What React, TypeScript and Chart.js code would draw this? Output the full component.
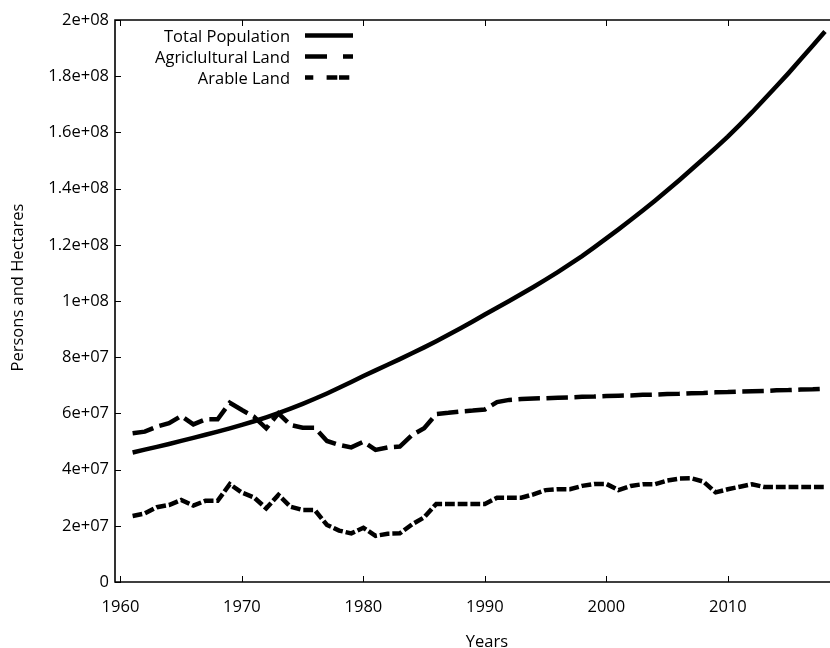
import { useEffect, useRef } from "react";
import { Chart, registerables } from "chart.js";

Chart.register(...registerables);

// ---------- data ----------
const YEARS = [
  1961, 1962, 1963, 1964, 1965, 1966, 1967, 1968, 1969, 1970,
  1971, 1972, 1973, 1974, 1975, 1976, 1977, 1978, 1979, 1980,
  1981, 1982, 1983, 1984, 1985, 1986, 1987, 1988, 1989, 1990,
  1991, 1992, 1993, 1994, 1995, 1996, 1997, 1998, 1999, 2000,
  2001, 2002, 2003, 2004, 2005, 2006, 2007, 2008, 2009, 2010,
  2011, 2012, 2013, 2014, 2015, 2016, 2017, 2018,
];

// millions of persons
const TOTAL_POPULATION_M = [
  46.1, 47.1, 48.1, 49.1, 50.2, 51.3, 52.4, 53.5, 54.7, 55.9,
  57.2, 58.6, 60.1, 61.7, 63.4, 65.2, 67.1, 69.1, 71.2, 73.3,
  75.3, 77.3, 79.3, 81.4, 83.5, 85.7, 88.0, 90.3, 92.7, 95.2,
  97.6, 100.0, 102.5, 105.0, 107.6, 110.3, 113.1, 116.0, 119.1, 122.3,
  125.5, 128.8, 132.2, 135.7, 139.3, 143.0, 146.8, 150.6, 154.5, 158.5,
  162.8, 167.2, 171.8, 176.4, 181.1, 186.0, 190.9, 195.9,
];

// millions of hectares
const AGRICULTURAL_LAND_M = [
  52.9, 53.5, 55.3, 56.5, 59.1, 56.1, 57.9, 57.9, 63.8, 61.2,
  58.8, 54.7, 60.0, 55.9, 54.9, 54.9, 50.2, 48.8, 47.9, 49.9,
  47.0, 47.9, 48.2, 52.3, 54.7, 59.8, 60.2, 60.7, 61.0, 61.4,
  64.0, 64.8, 65.1, 65.3, 65.4, 65.6, 65.7, 65.9, 66.0, 66.2,
  66.3, 66.4, 66.6, 66.7, 66.9, 67.0, 67.2, 67.3, 67.5, 67.6,
  67.8, 67.9, 68.0, 68.2, 68.3, 68.5, 68.6, 68.8,
];

// millions of hectares
const ARABLE_LAND_M = [
  23.5, 24.4, 26.6, 27.4, 29.2, 27.2, 28.9, 28.9, 34.8, 31.8,
  30.1, 26.2, 31.0, 26.8, 25.6, 25.6, 20.3, 18.3, 17.3, 19.3,
  16.4, 17.2, 17.3, 20.5, 23.0, 27.8, 27.8, 27.8, 27.8, 27.8,
  30.0, 30.0, 30.0, 31.2, 32.7, 33.0, 33.0, 34.2, 34.9, 34.9,
  32.7, 34.2, 34.8, 34.8, 36.1, 36.8, 36.9, 35.7, 31.9, 33.0,
  33.9, 34.8, 33.8, 33.8, 33.8, 33.8, 33.8, 33.8,
];

const SERIES_LABELS = ["Total Population", "Agriclultural Land", "Arable Land"];
const X_TICKS = [1960, 1970, 1980, 1990, 2000, 2010, 2020];
const Y_TICKS = [0, 2e7, 4e7, 6e7, 8e7, 1e8, 1.2e8, 1.4e8, 1.6e8, 1.8e8, 2e8];
const X_TITLE = "Years";
const Y_TITLE = "Persons and Hectares";

// ---------- styling ----------
const FONT_FAMILY = '"Open Sans", "DejaVu Sans", sans-serif';
const FONT_SIZE = 16.5;
const CANVAS_W = 880;
const CANVAS_H = 648;
const LEGEND_SAMPLE_DASH = [[], [22, 16], [8.3, 13.3, 10.7, 1.7, 10.3, 100]];

function gnuplotFormat(v: number): string {
  if (v === 0) return "0";
  const e = Math.floor(Math.log10(Math.abs(v)) + 1e-9);
  const m = parseFloat((v / Math.pow(10, e)).toPrecision(6));
  return `${m}e+${String(e).padStart(2, "0")}`;
}

const framePlugin = {
  id: "gnuplotFrame",
  afterDatasetsDraw(chart: any) {
    const { ctx, chartArea, scales } = chart;
    const { left, right, top, bottom } = chartArea;
    const xs = scales.x;
    const ys = scales.y;
    ctx.save();
    ctx.setLineDash([]);
    ctx.strokeStyle = "#000";
    // border
    ctx.lineWidth = 1.6;
    ctx.beginPath();
    ctx.moveTo(left, top);
    ctx.lineTo(right, top);
    ctx.lineTo(right, bottom);
    ctx.lineTo(left, bottom);
    ctx.closePath();
    ctx.stroke();
    // inward ticks
    ctx.lineWidth = 1;
    const tl = 6;
    ctx.beginPath();
    for (const v of X_TICKS) {
      const px = Math.round(xs.getPixelForValue(v)) + 0.5;
      if (px < left || px > right) continue;
      ctx.moveTo(px, bottom);
      ctx.lineTo(px, bottom - tl);
      ctx.moveTo(px, top);
      ctx.lineTo(px, top + tl);
    }
    for (const v of Y_TICKS) {
      const py = Math.round(ys.getPixelForValue(v)) + 0.5;
      ctx.moveTo(left, py);
      ctx.lineTo(left + tl, py);
      ctx.moveTo(right, py);
      ctx.lineTo(right - tl, py);
    }
    ctx.stroke();

    // legend (top-left, gnuplot style: right-aligned text then sample)
    ctx.font = `${FONT_SIZE}px ${FONT_FAMILY}`;
    ctx.fillStyle = "#000";
    ctx.textAlign = "right";
    ctx.textBaseline = "alphabetic";
    chart.data.datasets.forEach((ds: any, i: number) => {
      const yRow = top + 15.5 + i * 21;
      ctx.fillText(ds.label, left + 175, yRow + 6.5);
      ctx.save();
      ctx.strokeStyle = ds.borderColor;
      ctx.lineWidth = ds.borderWidth;
      ctx.lineCap = "butt";
      ctx.setLineDash(LEGEND_SAMPLE_DASH[i] || ds.borderDash || []);
      ctx.beginPath();
      ctx.moveTo(left + 190, yRow);
      ctx.lineTo(left + 238, yRow);
      ctx.stroke();
      ctx.restore();
    });

    // axis titles
    ctx.textAlign = "center";
    ctx.fillText(X_TITLE, (left + right) / 2, 647);
    ctx.translate(23, 287.5);
    ctx.rotate(-Math.PI / 2);
    ctx.fillText(Y_TITLE, 0, 0);
    ctx.restore();
  },
};

export default function App() {
  const canvasRef = useRef<HTMLCanvasElement | null>(null);

  useEffect(() => {
    if (!canvasRef.current) return;
    const toPoints = (arr: number[]) =>
      YEARS.map((yr, i) => ({ x: yr, y: arr[i] * 1e6 }));

    const chart = new Chart(canvasRef.current, {
      type: "line",
      data: {
        datasets: [
          {
            label: SERIES_LABELS[0],
            data: toPoints(TOTAL_POPULATION_M),
            borderColor: "#000",
            borderWidth: 4.5,
            pointRadius: 0,
            fill: false,
          },
          {
            label: SERIES_LABELS[1],
            data: toPoints(AGRICULTURAL_LAND_M),
            borderColor: "#000",
            borderWidth: 4.5,
            borderDash: [21.5, 6.5],
            borderCapStyle: "butt",
            pointRadius: 0,
            fill: false,
          },
          {
            label: SERIES_LABELS[2],
            data: toPoints(ARABLE_LAND_M),
            borderColor: "#000",
            borderWidth: 4.5,
            borderDash: [9.8, 2.9],
            borderCapStyle: "butt",
            pointRadius: 0,
            fill: false,
          },
        ],
      },
      options: {
        animation: false,
        responsive: false,
        maintainAspectRatio: false,
        layout: { padding: { left: 0, right: 21, top: 20, bottom: 0 } },
        plugins: {
          legend: { display: false },
          tooltip: { enabled: false },
          title: { display: false },
        },
        scales: {
          x: {
            type: "linear",
            min: 1959.55,
            max: 2020.8,
            grid: { display: false, drawTicks: false },
            border: { display: false },
            afterBuildTicks: (s: any) => {
              s.ticks = X_TICKS.filter((v) => v <= 2010).map((v) => ({ value: v }));
            },
            afterFit: (s: any) => {
              s.height = CANVAS_H - 582;
            },
            ticks: {
              autoSkip: false,
              maxRotation: 0,
              padding: 15,
              color: "#000",
              font: { family: FONT_FAMILY, size: FONT_SIZE },
              callback: (v: any) => String(v),
            },
          },
          y: {
            type: "linear",
            min: 0,
            max: 2e8,
            grid: { display: false, drawTicks: false },
            border: { display: false },
            afterBuildTicks: (s: any) => {
              s.ticks = Y_TICKS.map((v) => ({ value: v }));
            },
            afterFit: (s: any) => {
              s.width = 115;
            },
            ticks: {
              padding: 6,
              color: "#000",
              font: { family: FONT_FAMILY, size: FONT_SIZE },
              callback: (v: any) => gnuplotFormat(Number(v)),
            },
          },
        },
      },
      plugins: [framePlugin],
    });

    return () => chart.destroy();
  }, []);

  return (
    <div
      style={{
        position: "fixed",
        left: 0,
        top: 0,
        width: 830,
        height: 648,
        overflow: "hidden",
        background: "#fff",
      }}
    >
      <canvas
        ref={canvasRef}
        width={CANVAS_W}
        height={CANVAS_H}
        style={{ display: "block", width: CANVAS_W, height: CANVAS_H }}
      />
    </div>
  );
}
